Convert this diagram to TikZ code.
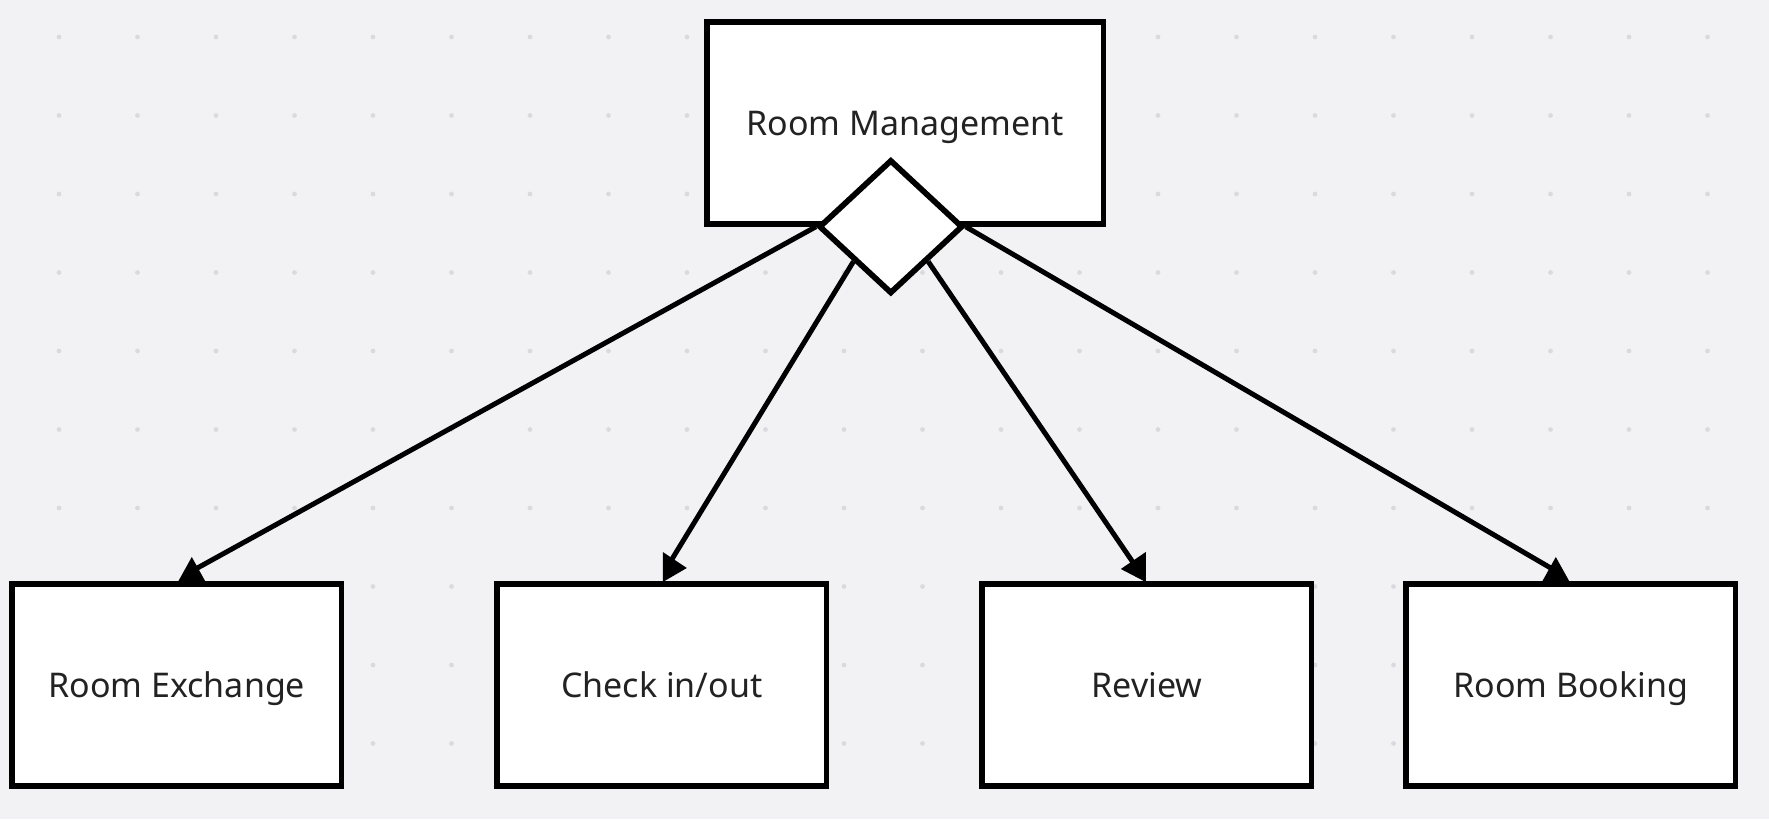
\documentclass[tikz,border=0pt]{standalone}
\usepackage{fontspec}
\setmainfont{Noto Sans}
\usetikzlibrary{positioning,shapes.geometric}
\definecolor{canvas}{HTML}{F2F2F4}
\definecolor{griddot}{HTML}{DADADE}
\definecolor{ink}{HTML}{222222}

\begin{document}
\begin{tikzpicture}[node distance=150pt]

\tikzset{
  box/.style={
    rectangle, draw=black, fill=white, line width=5.7pt,
    minimum width=329.3pt, minimum height=202.3pt,
    inner sep=0pt, text=ink, font=\fontsize{34}{40}\selectfont,
    text height=24.2pt, text depth=0pt
  },
  gate/.style={
    diamond, draw=black, fill=white, line width=5.7pt,
    minimum width=144pt, minimum height=134pt, inner sep=0pt
  },
  link/.style={draw=black, line width=5pt},
  head/.style={fill=black},
  dot/.style={fill=griddot}
}

% ==========================
% Fondo con puntos
% ==========================
\fill[canvas] (0,0) rectangle (1769pt,819pt);
\useasboundingbox (0,0) rectangle (1769pt,819pt);
\foreach \i in {0,...,21}
  \foreach \j in {0,...,9}
    \fill[dot] (59pt+78.5pt*\i, 782pt-78.5pt*\j) circle (2.4pt);

% ==========================
% Nodo superior
% ==========================
\node[box, minimum width=396.3pt, minimum height=201.7pt] (rm) at (905.3pt,696pt) {Room Management};
\node[gate] (dia) at ([xshift=-14.5pt]rm.south) {};

% ==========================
% Fila inferior
% ==========================
\node[box] (ex) at (176.8pt,134pt) {Room Exchange};
\node[box, right=of ex] (ck) {Check in/out};
\node[box, right=of ck] (rv) {Review};
\node[box, right=89pt of rv] (bk) {Room Booking};

% Extremos de las flechas
\coordinate (exhead) at ([xshift=15.2pt,yshift=10pt]ex.north);
\coordinate (ckhead) at ([xshift=6pt,yshift=15pt]ck.north);
\coordinate (rvhead) at ([xshift=-10pt,yshift=13pt]rv.north);
\coordinate (bkhead) at ([xshift=-15pt,yshift=10pt]bk.north);

\draw[link] (dia.west) -- (exhead);
\draw[link] (dia.south west) -- (ckhead);
\draw[link] (dia.south east) -- (rvhead);
\draw[link] (dia.east) -- (bkhead);

% Puntas
\fill[head] ([yshift=-3pt]ex.north) -- ++(30pt,0) -- ++(-15pt,27pt) -- cycle;
\fill[head] ([xshift=1pt,yshift=-1pt]ck.north) -- ++(0,30pt) -- ++(24pt,-16pt) -- cycle;
\fill[head] ([xshift=-1pt,yshift=-1pt]rv.north) -- ++(0,30pt) -- ++(-25pt,-17pt) -- cycle;
\fill[head] ([yshift=-3pt]bk.north) -- ++(-30pt,0) -- ++(15pt,27pt) -- cycle;

\end{tikzpicture}
\end{document}
